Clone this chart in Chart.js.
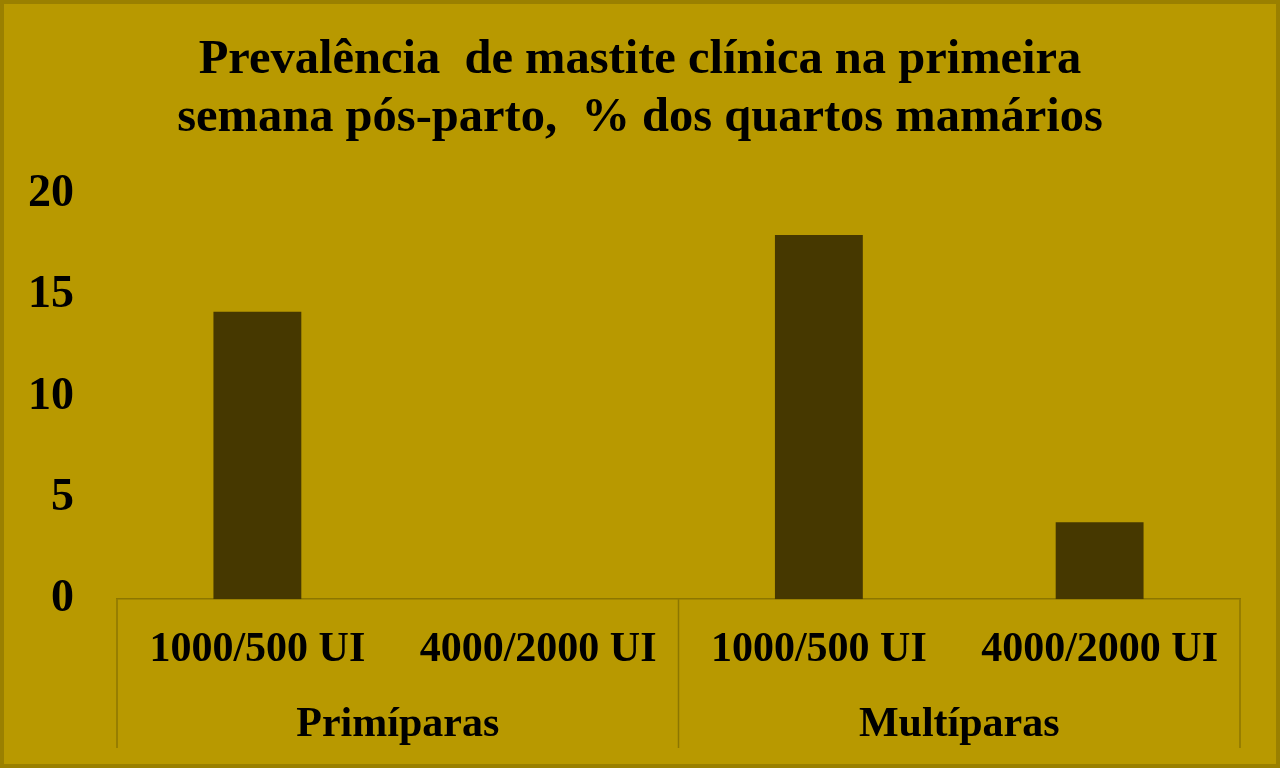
<!DOCTYPE html>
<html>
<head>
<meta charset="utf-8">
<script src="https://cdn.jsdelivr.net/npm/chart.js@4.4.1/dist/chart.umd.min.js"></script>
<style>
  html, body { margin: 0; padding: 0; background: #b89900; }
  #chart { display: block; }
</style>
</head>
<body>
<canvas id="chart" width="1280" height="768"></canvas>
<script>
// ── Chart data ──
const doseLabels = ['1000/500 UI', '4000/2000 UI', '1000/500 UI', '4000/2000 UI'];
const groupLabels = ['Primíparas', 'Multíparas'];
const prevalence = [14.2, 0, 18, 3.8];
const yTicks = [0, 5, 10, 15, 20];
const titleLines = [
  'Prevalência  de mastite clínica na primeira',
  'semana pós-parto,  % dos quartos mamários'
];

const BG = '#b89900';
const FRAME = '#9a8000';
const BAR = '#463800';
const LINE = '#8c7600';
const SERIF = '"Liberation Serif", "Times New Roman", serif';

/* ════════════════════════════
   BACKGROUND + FRAME
════════════════════════════ */
const bgPlugin = {
  id: 'bg',
  beforeDraw(chart) {
    const c = chart.ctx;
    c.save();
    c.fillStyle = BG;
    c.fillRect(0, 0, chart.width, chart.height);
    c.strokeStyle = FRAME;
    c.lineWidth = 4;
    c.strokeRect(2, 2, chart.width - 4, chart.height - 4);
    c.restore();
  }
};

/* ════════════════════════════
   GROUP SEPARATORS
════════════════════════════ */
const sepPlugin = {
  id: 'seps',
  afterDraw(chart) {
    const x = chart.scales.x;
    const g = chart.scales.group;
    const mid = (g.getPixelForValue(0) + g.getPixelForValue(1)) / 2;
    const c = chart.ctx;
    c.save();
    c.strokeStyle = LINE;
    c.lineWidth = 1.5;
    [x.left, mid, x.right].forEach(px => {
      c.beginPath();
      c.moveTo(px, x.top);
      c.lineTo(px, 748);
      c.stroke();
    });
    c.restore();
  }
};

new Chart(document.getElementById('chart'), {
  type: 'bar',
  data: {
    labels: doseLabels,
    datasets: [{
      data: prevalence,
      backgroundColor: BAR,
      borderWidth: 0,
      categoryPercentage: 1,
      barPercentage: 0.313
    }]
  },
  options: {
    responsive: false,
    animation: false,
    layout: { padding: { left: 0, right: 0, top: 0, bottom: 20 } },
    plugins: {
      legend: { display: false },
      tooltip: { enabled: false },
      title: {
        display: true,
        text: titleLines,
        color: '#000',
        font: { family: SERIF, size: 48.5, weight: 'bold', lineHeight: 1.2 },
        padding: { top: 31, bottom: 47 }
      }
    },
    scales: {
      y: {
        min: 0,
        max: 20,
        afterBuildTicks: axis => { axis.ticks = yTicks.map(v => ({ value: v })); },
        afterFit: axis => { axis.width = 117; },
        grid: { display: false, drawTicks: false },
        border: { display: false },
        ticks: {
          color: '#000',
          padding: 43,
          font: { family: SERIF, size: 46, weight: 'bold' }
        }
      },
      // empty right margin so the title centres on the whole picture
      yRight: {
        position: 'right',
        afterFit: axis => { axis.width = 40; },
        grid: { display: false, drawTicks: false },
        border: { display: false },
        ticks: { display: false }
      },
      x: {
        grid: { display: false, drawTicks: false },
        border: { display: true, color: LINE, width: 1.5 },
        ticks: {
          color: '#000',
          padding: 26,
          maxRotation: 0,
          autoSkip: false,
          font: { family: SERIF, size: 42, weight: 'bold' }
        }
      },
      group: {
        type: 'category',
        position: 'bottom',
        labels: groupLabels,
        grid: { display: false, drawTicks: false },
        border: { display: false },
        ticks: {
          color: '#000',
          padding: -2,
          font: { family: SERIF, size: 42, weight: 'bold' }
        }
      }
    }
  },
  plugins: [bgPlugin, sepPlugin]
});
</script>
</body>
</html>
